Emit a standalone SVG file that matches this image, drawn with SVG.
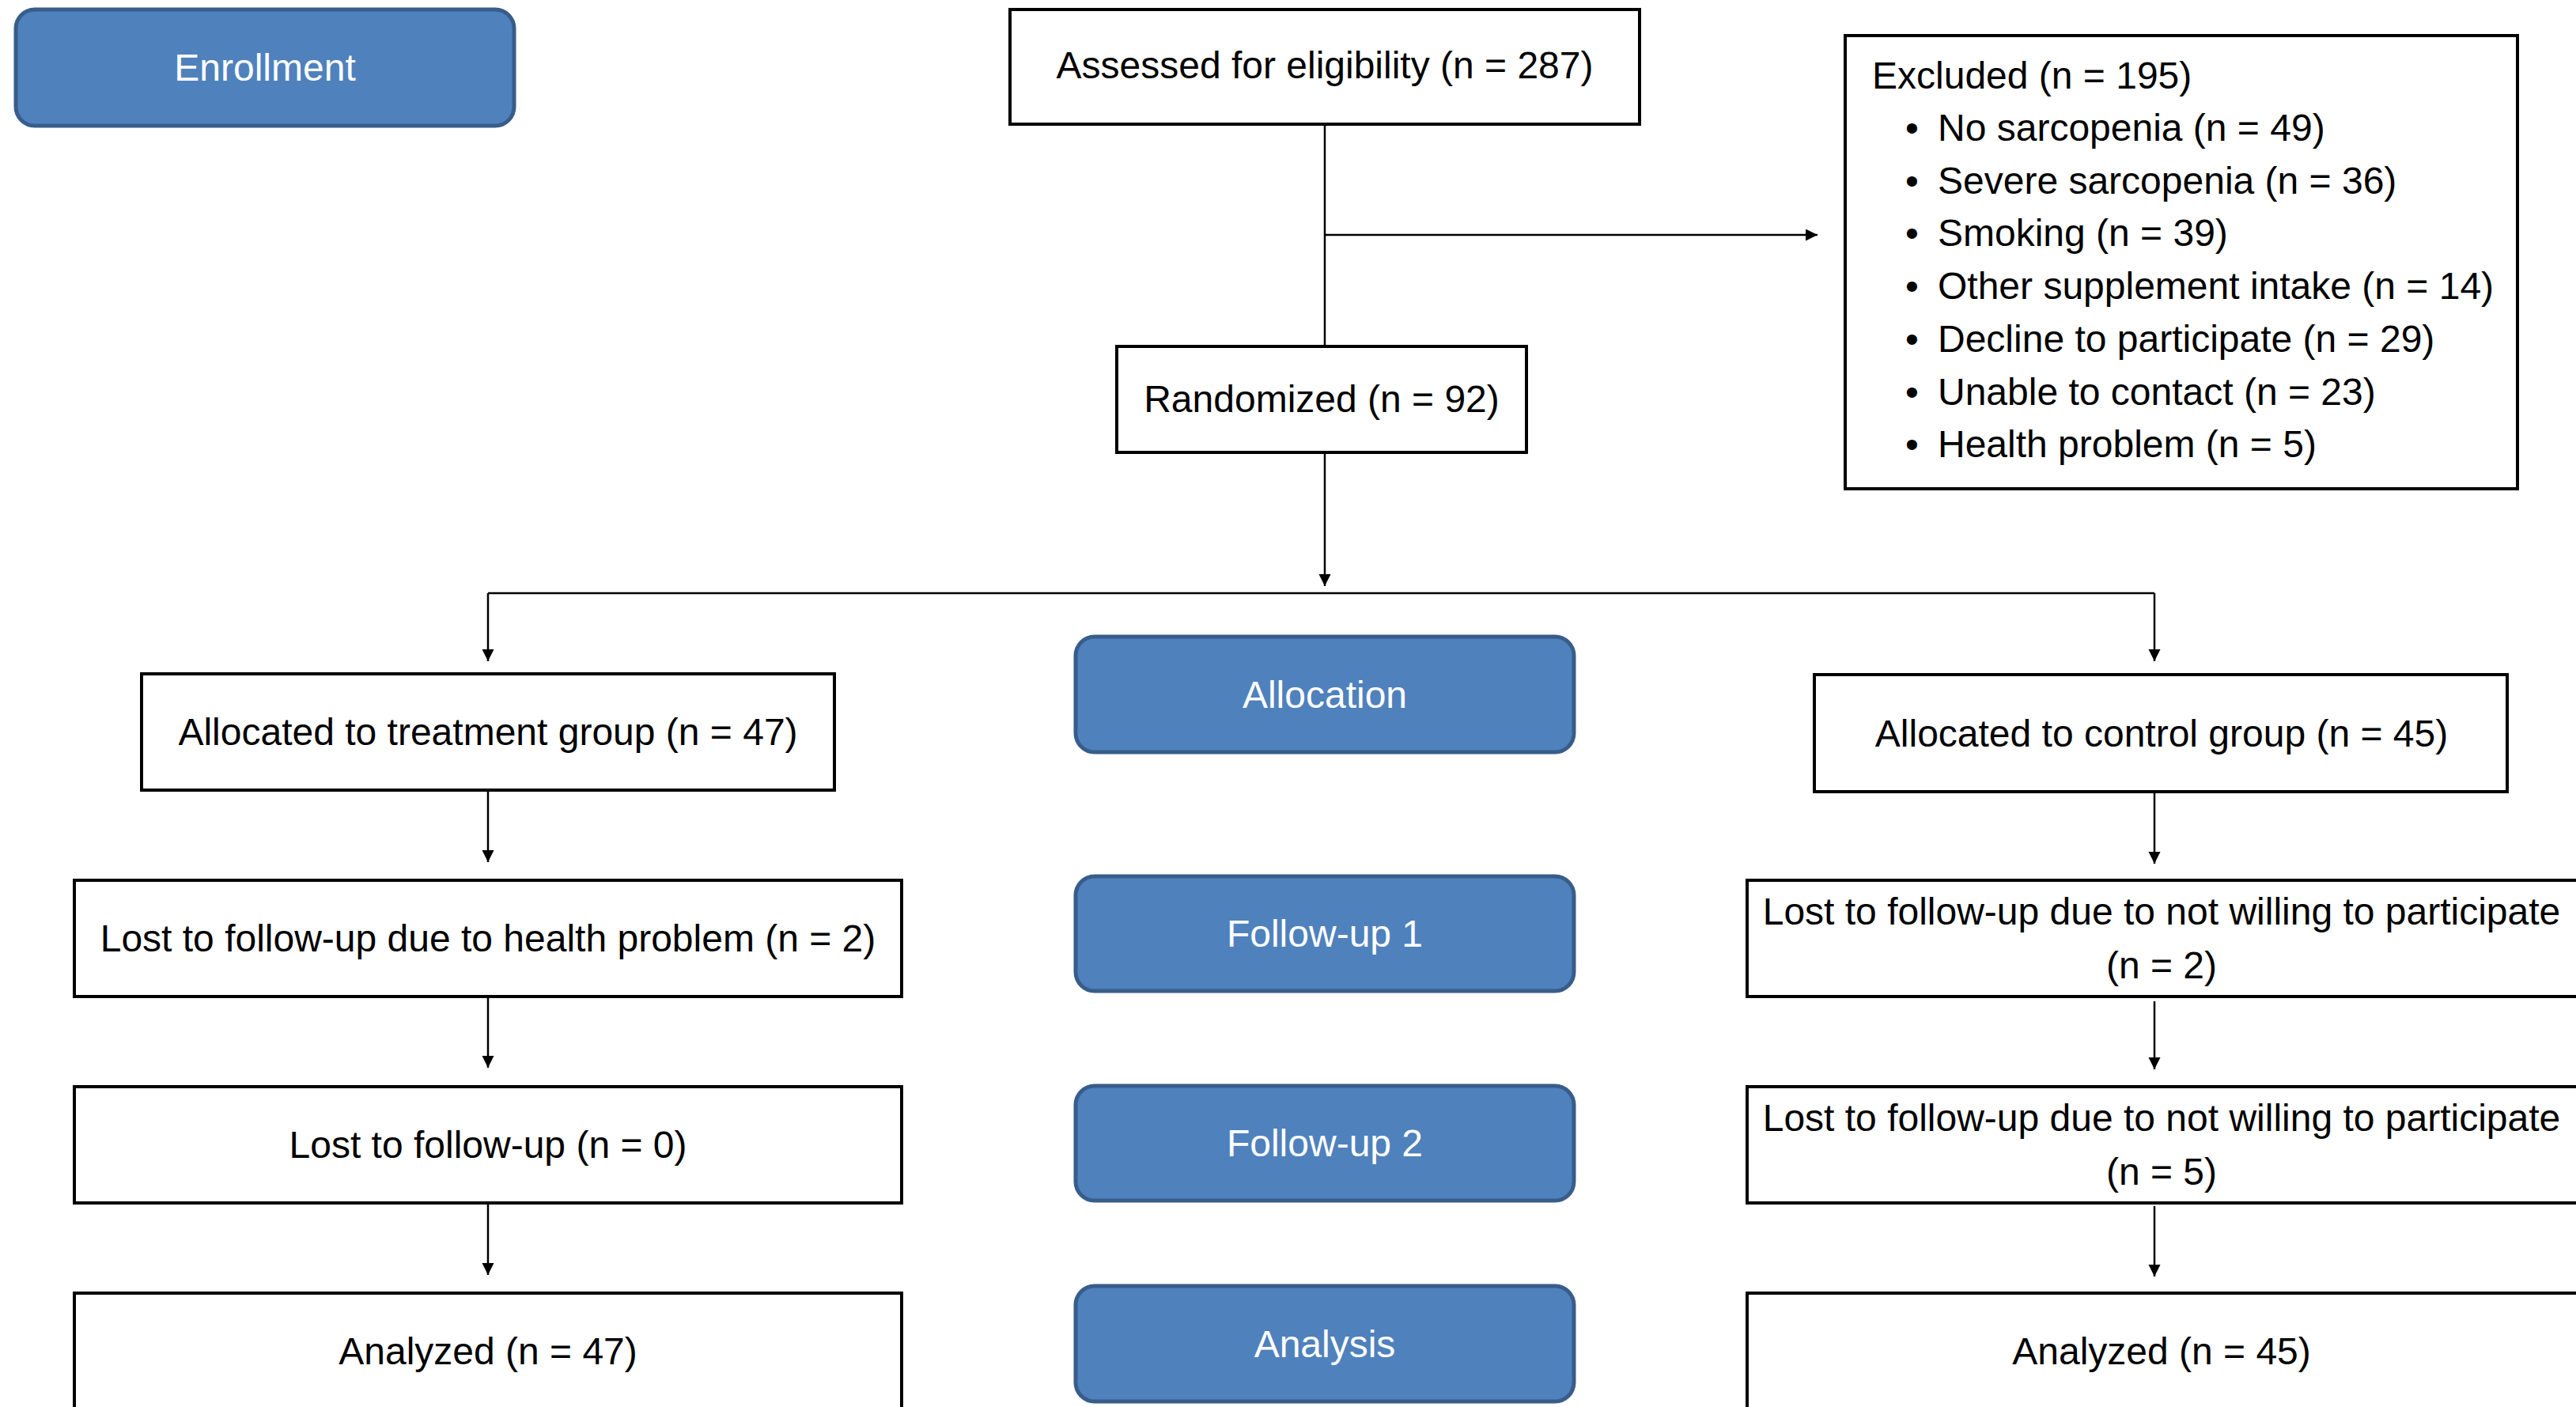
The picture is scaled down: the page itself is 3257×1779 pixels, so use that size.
<svg xmlns="http://www.w3.org/2000/svg" width="3257" height="1779" viewBox="0 0 3257 1779">
<defs>
<style>
.box{fill:#fff;stroke:#000;stroke-width:4}
.stage{fill:#4F81BD;stroke:#385D8A;stroke-width:5}
.t{font-family:"Liberation Sans",Arial,sans-serif;font-size:48px;fill:#000}
.c{text-anchor:middle}
.w{fill:#fff}
.con{fill:none;stroke:#000;stroke-width:2.5}
</style>
<marker id="arr" markerUnits="userSpaceOnUse" markerWidth="16" markerHeight="16" refX="15" refY="7.5" orient="auto">
<path d="M0,0 L15,7.5 L0,15 z" fill="#000"/>
</marker>
</defs>
<rect width="3257" height="1779" fill="#fff"/>

<g id="connectors">
<path class="con" d="M1675,158 V436"/>
<path class="con" d="M1675,297 H2298" marker-end="url(#arr)"/>
<path class="con" d="M1675,574 V741" marker-end="url(#arr)"/>
<path class="con" d="M617,750 H2724"/>
<path class="con" d="M617,750 V836" marker-end="url(#arr)"/>
<path class="con" d="M2724,750 V836" marker-end="url(#arr)"/>
<path class="con" d="M617,1001 V1090" marker-end="url(#arr)"/>
<path class="con" d="M617,1262 V1350" marker-end="url(#arr)"/>
<path class="con" d="M617,1523 V1612" marker-end="url(#arr)"/>
<path class="con" d="M2724,1003 V1092" marker-end="url(#arr)"/>
<path class="con" d="M2724,1266 V1352" marker-end="url(#arr)"/>
<path class="con" d="M2724,1525 V1614" marker-end="url(#arr)"/>
</g>

<g id="enrollment">
<rect class="stage" x="20" y="12" width="630" height="147" rx="24"/>
<text class="t c w" x="335" y="102">Enrollment</text>
</g>

<g id="assessed">
<rect class="box" x="1277" y="12" width="796" height="145"/>
<text class="t c" x="1675" y="99">Assessed for eligibility (n = 287)</text>
</g>

<g id="excluded">
<rect class="box" x="2333" y="45" width="850" height="573"/>
<text class="t" x="2367" y="112">Excluded (n = 195)</text>
<text class="t" x="2409" y="178">•</text><text class="t" x="2450" y="178">No sarcopenia (n = 49)</text>
<text class="t" x="2409" y="245">•</text><text class="t" x="2450" y="245">Severe sarcopenia (n = 36)</text>
<text class="t" x="2409" y="311">•</text><text class="t" x="2450" y="311">Smoking (n = 39)</text>
<text class="t" x="2409" y="378">•</text><text class="t" x="2450" y="378">Other supplement intake (n = 14)</text>
<text class="t" x="2409" y="445">•</text><text class="t" x="2450" y="445">Decline to participate (n = 29)</text>
<text class="t" x="2409" y="512">•</text><text class="t" x="2450" y="512">Unable to contact (n = 23)</text>
<text class="t" x="2409" y="578">•</text><text class="t" x="2450" y="578">Health problem (n = 5)</text>
</g>

<g id="randomized">
<rect class="box" x="1412" y="438" width="518" height="134"/>
<text class="t c" x="1671" y="521">Randomized (n = 92)</text>
</g>

<g id="treatment">
<rect class="box" x="179" y="852" width="876" height="147"/>
<text class="t c" x="617" y="942">Allocated to treatment group (n = 47)</text>
</g>

<g id="allocation">
<rect class="stage" x="1360" y="805" width="630" height="146" rx="24"/>
<text class="t c w" x="1675" y="895">Allocation</text>
</g>

<g id="control">
<rect class="box" x="2294" y="853" width="876" height="148"/>
<text class="t c" x="2733" y="944">Allocated to control group (n = 45)</text>
</g>

<g id="lost-treatment-1">
<rect class="box" x="94" y="1113" width="1046" height="147"/>
<text class="t c" x="617" y="1203">Lost to follow-up due to health problem (n = 2)</text>
</g>

<g id="followup1">
<rect class="stage" x="1360" y="1108" width="630" height="145" rx="24"/>
<text class="t c w" x="1675" y="1197">Follow-up 1</text>
</g>

<g id="lost-control-1">
<rect class="box" x="2209" y="1113" width="1052" height="147"/>
<text class="t c" x="2733" y="1169">Lost to follow-up due to not willing to participate</text>
<text class="t c" x="2733" y="1237">(n = 2)</text>
</g>

<g id="lost-treatment-2">
<rect class="box" x="94" y="1374" width="1046" height="147"/>
<text class="t c" x="617" y="1464">Lost to follow-up (n = 0)</text>
</g>

<g id="followup2">
<rect class="stage" x="1360" y="1373" width="630" height="145" rx="24"/>
<text class="t c w" x="1675" y="1462">Follow-up 2</text>
</g>

<g id="lost-control-2">
<rect class="box" x="2209" y="1374" width="1052" height="147"/>
<text class="t c" x="2733" y="1430">Lost to follow-up due to not willing to participate</text>
<text class="t c" x="2733" y="1498">(n = 5)</text>
</g>

<g id="analyzed-treatment">
<rect class="box" x="94" y="1635" width="1046" height="147"/>
<text class="t c" x="617" y="1725">Analyzed (n = 47)</text>
</g>

<g id="analysis">
<rect class="stage" x="1360" y="1626" width="630" height="146" rx="24"/>
<text class="t c w" x="1675" y="1716">Analysis</text>
</g>

<g id="analyzed-control">
<rect class="box" x="2209" y="1635" width="1052" height="147"/>
<text class="t c" x="2733" y="1725">Analyzed (n = 45)</text>
</g>
</svg>
